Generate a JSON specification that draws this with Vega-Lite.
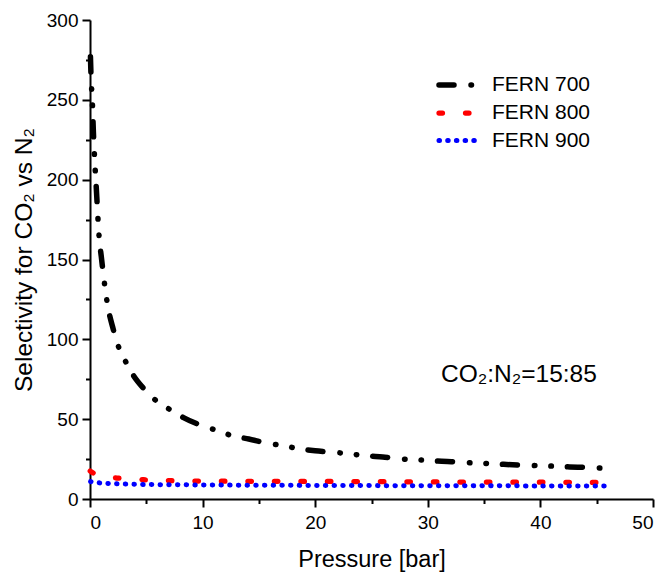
{
  "$schema": "https://vega.github.io/schema/vega-lite/v6.json",
  "width": 563,
  "height": 479,
  "autosize": {"type": "none"},
  "padding": {"left": 90, "top": 20, "right": 14, "bottom": 73},
  "config": {
    "view": {"stroke": null},
    "font": "Liberation Sans",
    "axis": {
      "grid": false,
      "domainColor": "#000000",
      "domainWidth": 2,
      "tickColor": "#000000",
      "tickWidth": 2,
      "labelColor": "#000000",
      "titleColor": "#000000",
      "labelFont": "Liberation Sans",
      "titleFont": "Liberation Sans",
      "labelFontSize": 19,
      "titleFontSize": 23.5,
      "titleFontWeight": "normal"
    },
    "legend": {
      "labelFont": "Liberation Sans",
      "labelFontSize": 21,
      "labelColor": "#000000"
    }
  },
  "resolve": {"axis": {"x": "independent", "y": "independent"}},
  "layer": [
    {
      "data": {
        "values": [
          {"series": "FERN 700", "pressure": 0.04, "selectivity": 277},
          {"series": "FERN 700", "pressure": 0.1, "selectivity": 263},
          {"series": "FERN 700", "pressure": 0.2, "selectivity": 250},
          {"series": "FERN 700", "pressure": 0.3, "selectivity": 230},
          {"series": "FERN 700", "pressure": 0.45, "selectivity": 208},
          {"series": "FERN 700", "pressure": 0.55, "selectivity": 196},
          {"series": "FERN 700", "pressure": 0.65, "selectivity": 183},
          {"series": "FERN 700", "pressure": 0.8, "selectivity": 165},
          {"series": "FERN 700", "pressure": 1.0, "selectivity": 152},
          {"series": "FERN 700", "pressure": 1.25, "selectivity": 137},
          {"series": "FERN 700", "pressure": 1.6, "selectivity": 120},
          {"series": "FERN 700", "pressure": 2.0, "selectivity": 108},
          {"series": "FERN 700", "pressure": 2.5, "selectivity": 96},
          {"series": "FERN 700", "pressure": 3.1, "selectivity": 87},
          {"series": "FERN 700", "pressure": 3.8, "selectivity": 78},
          {"series": "FERN 700", "pressure": 4.8, "selectivity": 69},
          {"series": "FERN 700", "pressure": 5.8, "selectivity": 62},
          {"series": "FERN 700", "pressure": 7.1, "selectivity": 56},
          {"series": "FERN 700", "pressure": 8.3, "selectivity": 51},
          {"series": "FERN 700", "pressure": 9.8, "selectivity": 46.3},
          {"series": "FERN 700", "pressure": 11.25, "selectivity": 43},
          {"series": "FERN 700", "pressure": 12.7, "selectivity": 39.5},
          {"series": "FERN 700", "pressure": 14.1, "selectivity": 37.6},
          {"series": "FERN 700", "pressure": 15.7, "selectivity": 35},
          {"series": "FERN 700", "pressure": 17, "selectivity": 33.6},
          {"series": "FERN 700", "pressure": 18.6, "selectivity": 31.4},
          {"series": "FERN 700", "pressure": 20, "selectivity": 30.2},
          {"series": "FERN 700", "pressure": 21.6, "selectivity": 29.3},
          {"series": "FERN 700", "pressure": 23.1, "selectivity": 28.2},
          {"series": "FERN 700", "pressure": 24.7, "selectivity": 27},
          {"series": "FERN 700", "pressure": 26, "selectivity": 26.3},
          {"series": "FERN 700", "pressure": 27.6, "selectivity": 25.1},
          {"series": "FERN 700", "pressure": 29, "selectivity": 24.6},
          {"series": "FERN 700", "pressure": 30.2, "selectivity": 24},
          {"series": "FERN 700", "pressure": 32.1, "selectivity": 23.4},
          {"series": "FERN 700", "pressure": 33.7, "selectivity": 22.7},
          {"series": "FERN 700", "pressure": 35.1, "selectivity": 22.3},
          {"series": "FERN 700", "pressure": 36.7, "selectivity": 21.7},
          {"series": "FERN 700", "pressure": 38, "selectivity": 21.3},
          {"series": "FERN 700", "pressure": 39.7, "selectivity": 20.9},
          {"series": "FERN 700", "pressure": 41.1, "selectivity": 20.6},
          {"series": "FERN 700", "pressure": 42.6, "selectivity": 20.1},
          {"series": "FERN 700", "pressure": 44, "selectivity": 19.8},
          {"series": "FERN 700", "pressure": 45.6, "selectivity": 19.3},
          {"series": "FERN 800", "pressure": 0.02, "selectivity": 17.5},
          {"series": "FERN 800", "pressure": 0.3, "selectivity": 16.2},
          {"series": "FERN 800", "pressure": 1.0, "selectivity": 14.5},
          {"series": "FERN 800", "pressure": 2.5, "selectivity": 13.1},
          {"series": "FERN 800", "pressure": 5, "selectivity": 12},
          {"series": "FERN 800", "pressure": 7.5, "selectivity": 11.5},
          {"series": "FERN 800", "pressure": 10, "selectivity": 11.2},
          {"series": "FERN 800", "pressure": 15, "selectivity": 11.1},
          {"series": "FERN 800", "pressure": 20, "selectivity": 11},
          {"series": "FERN 800", "pressure": 25, "selectivity": 10.9},
          {"series": "FERN 800", "pressure": 30, "selectivity": 10.7},
          {"series": "FERN 800", "pressure": 35, "selectivity": 10.6},
          {"series": "FERN 800", "pressure": 40, "selectivity": 10.5},
          {"series": "FERN 800", "pressure": 45, "selectivity": 10.4},
          {"series": "FERN 900", "pressure": 0.05, "selectivity": 10.9},
          {"series": "FERN 900", "pressure": 1, "selectivity": 10},
          {"series": "FERN 900", "pressure": 2.5, "selectivity": 9.5},
          {"series": "FERN 900", "pressure": 5, "selectivity": 9.1},
          {"series": "FERN 900", "pressure": 10, "selectivity": 8.8},
          {"series": "FERN 900", "pressure": 20, "selectivity": 8.5},
          {"series": "FERN 900", "pressure": 30, "selectivity": 8.3},
          {"series": "FERN 900", "pressure": 40, "selectivity": 8.2},
          {"series": "FERN 900", "pressure": 45.8, "selectivity": 8.1}
        ]
      },
      "mark": {"type": "line", "interpolate": "monotone", "strokeCap": "round"},
      "encoding": {
        "x": {
          "field": "pressure",
          "type": "quantitative",
          "scale": {"domain": [0, 50], "nice": false, "zero": false},
          "axis": {
            "orient": "bottom",
            "values": [0, 10, 20, 30, 40, 50],
            "tickSize": 8,
            "labelPadding": 6,
            "title": "Pressure [bar]",
            "titlePadding": 15
          }
        },
        "y": {
          "field": "selectivity",
          "type": "quantitative",
          "scale": {"domain": [0, 300], "nice": false},
          "axis": {
            "orient": "left",
            "values": [0, 50, 100, 150, 200, 250, 300],
            "tickSize": 8,
            "labelPadding": 4,
            "title": "Selectivity for CO₂ vs N₂",
            "titleFontSize": 24.5,
            "titlePadding": 10
          }
        },
        "color": {
          "field": "series",
          "type": "nominal",
          "scale": {"domain": ["FERN 700", "FERN 800", "FERN 900"], "range": ["#000000", "#ff0000", "#0000ff"]},
          "legend": {
            "title": null,
            "orient": "none",
            "legendX": 356,
            "legendY": 52,
            "padding": 0,
            "symbolType": "M-2,0H2",
            "symbolSize": 400,
            "symbolStrokeWidth": 5,
            "rowPadding": 4,
            "labelOffset": 20,
            "encode": {"symbols": {"update": {"strokeCap": {"value": "round"}, "fill": {"value": "transparent"}}}}
          }
        },
        "strokeDash": {
          "field": "series",
          "type": "nominal",
          "scale": {"domain": ["FERN 700", "FERN 800", "FERN 900"], "range": [[15, 17, 0.5, 16, 0.5, 16], [3.5, 23], [0.5, 8.2]]},
          "legend": {
            "title": null,
            "orient": "none",
            "legendX": 356,
            "legendY": 52,
            "padding": 0,
            "symbolType": "M-2,0H2",
            "symbolSize": 400,
            "symbolStrokeWidth": 5,
            "rowPadding": 4,
            "labelOffset": 20,
            "encode": {"symbols": {"update": {"strokeCap": {"value": "round"}, "fill": {"value": "transparent"}}}}
          }
        },
        "strokeWidth": {
          "field": "series",
          "type": "nominal",
          "scale": {"domain": ["FERN 700", "FERN 800", "FERN 900"], "range": [5.5, 5, 4]},
          "legend": null
        }
      }
    },
    {
      "data": {"values": [{"px": 31.17, "sv": 73.3, "label": "CO₂:N₂=15:85"}]},
      "mark": {"type": "text", "align": "left", "baseline": "alphabetic", "fontSize": 24.5, "font": "Liberation Sans", "color": "#000000"},
      "encoding": {
        "x": {
          "field": "px",
          "type": "quantitative",
          "scale": {"domain": [0, 50], "nice": false, "zero": false},
          "axis": {"orient": "bottom", "values": [5, 15, 25, 35, 45], "labels": false, "domain": false, "tickSize": 4.5, "title": null}
        },
        "y": {
          "field": "sv",
          "type": "quantitative",
          "scale": {"domain": [0, 300], "nice": false},
          "axis": {"orient": "left", "values": [25, 75, 125, 175, 225, 275], "labels": false, "domain": false, "tickSize": 4.5, "title": null}
        },
        "text": {"field": "label"}
      }
    }
  ]
}
